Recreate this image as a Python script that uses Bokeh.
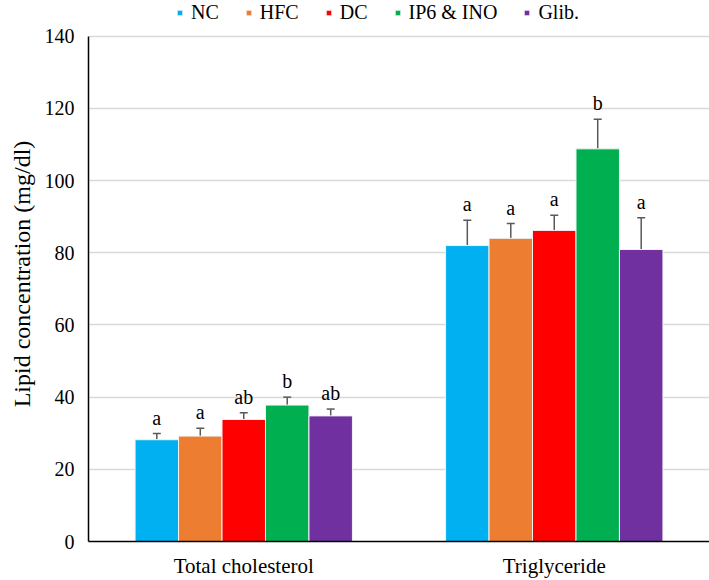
from bokeh.plotting import figure
from bokeh.models import ColumnDataSource, Legend, LegendItem, Whisker, TeeHead, FactorRange, Range1d, Title
from bokeh.transform import dodge
from bokeh.core.properties import value
from bokeh.embed import file_html
from bokeh.resources import INLINE

groups = ["Total cholesterol", "Triglyceride"]
series = ["NC", "HFC", "DC", "IP6 & INO", "Glib."]
colors = ["#00B0F0", "#ED7D31", "#FF0000", "#00B050", "#7030A0"]
means = {
    "NC": [28.2, 82.0],
    "HFC": [29.2, 84.0],
    "DC": [33.8, 86.2],
    "IP6 & INO": [37.8, 108.8],
    "Glib.": [34.8, 80.9],
}
errors = {
    "NC": [1.7, 7.0],
    "HFC": [2.2, 4.1],
    "DC": [1.9, 4.2],
    "IP6 & INO": [2.2, 8.2],
    "Glib.": [1.9, 8.8],
}
letters = {
    "NC": ["a", "a"],
    "HFC": ["a", "a"],
    "DC": ["ab", "a"],
    "IP6 & INO": ["b", "b"],
    "Glib.": ["ab", "a"],
}
y_ticks = [0, 20, 40, 60, 80, 100, 120, 140]
y_max = 140
y_title = "Lipid concentration  (mg/dl)"

FONT = "Liberation Serif"

# frame extends to the top of the canvas; room above 140 holds the legend
p = figure(x_range=FactorRange(*groups), y_range=Range1d(0, y_max * 545 / 509), width=709, height=580,
           output_backend="svg", toolbar_location=None,
           min_border_left=86, min_border_right=0, min_border_top=0, min_border_bottom=35)

bar_w = 0.14
offsets = [-0.28, -0.14, 0.0, 0.14, 0.28]
items = []
for s, c, off in zip(series, colors, offsets):
    tops = [m + e for m, e in zip(means[s], errors[s])]
    src = ColumnDataSource(dict(group=groups, val=means[s], top=tops, lab=letters[s]))
    r = p.vbar(x=dodge("group", off, range=p.x_range), top="val", width=bar_w, source=src,
               fill_color=c, line_color="#F2F2F2", line_width=1)
    items.append(LegendItem(label=s, renderers=[r]))
    w = Whisker(base=dodge("group", off, range=p.x_range), lower="val", upper="top", source=src,
                line_color="#595959", line_width=1.5, dimension="height",
                lower_head=None, upper_head=TeeHead(size=8, line_color="#595959", line_width=1.5))
    p.add_layout(w)
    p.text(x=dodge("group", off, range=p.x_range), y="top", text="lab", source=src,
           text_align="center", text_baseline="bottom", y_offset=-5,
           text_font=value(FONT), text_font_size="20px", text_color="black")

legend = Legend(items=items, orientation="horizontal", location=(88, 517),
                label_text_font=FONT, label_text_font_size="20px", label_height=20,
                label_text_color="black",
                glyph_width=7, glyph_height=7, spacing=26, label_standoff=8,
                padding=0, margin=0, border_line_color=None, background_fill_alpha=0)
p.add_layout(legend, "center")

# y-axis title centred on the 0-140 span (below the legend room)
p.add_layout(Title(text=y_title, align="center", offset=-32, standoff=13,
                   text_font=FONT, text_font_size="24px", text_font_style="normal",
                   text_color="black"), "left")

p.yaxis.ticker = y_ticks
p.yaxis.bounds = (0, y_max)
p.ygrid.bounds = (0, y_max)
for ax in (p.xaxis, p.yaxis):
    ax.major_label_text_font = FONT
    ax.major_label_text_color = "black"
    ax.major_tick_line_color = None
    ax.minor_tick_line_color = None
    ax.axis_line_color = "black"
    ax.axis_line_width = 1.5
p.yaxis.major_label_text_font_size = "20px"
p.xaxis.major_label_text_font_size = "21px"
p.yaxis.major_label_standoff = 8
p.xaxis.major_label_standoff = 6

p.xgrid.grid_line_color = None
p.ygrid.grid_line_color = "#D9D9D9"
p.ygrid.grid_line_width = 1.5
p.outline_line_color = None

open("out.html", "w").write(file_html(p, INLINE))
